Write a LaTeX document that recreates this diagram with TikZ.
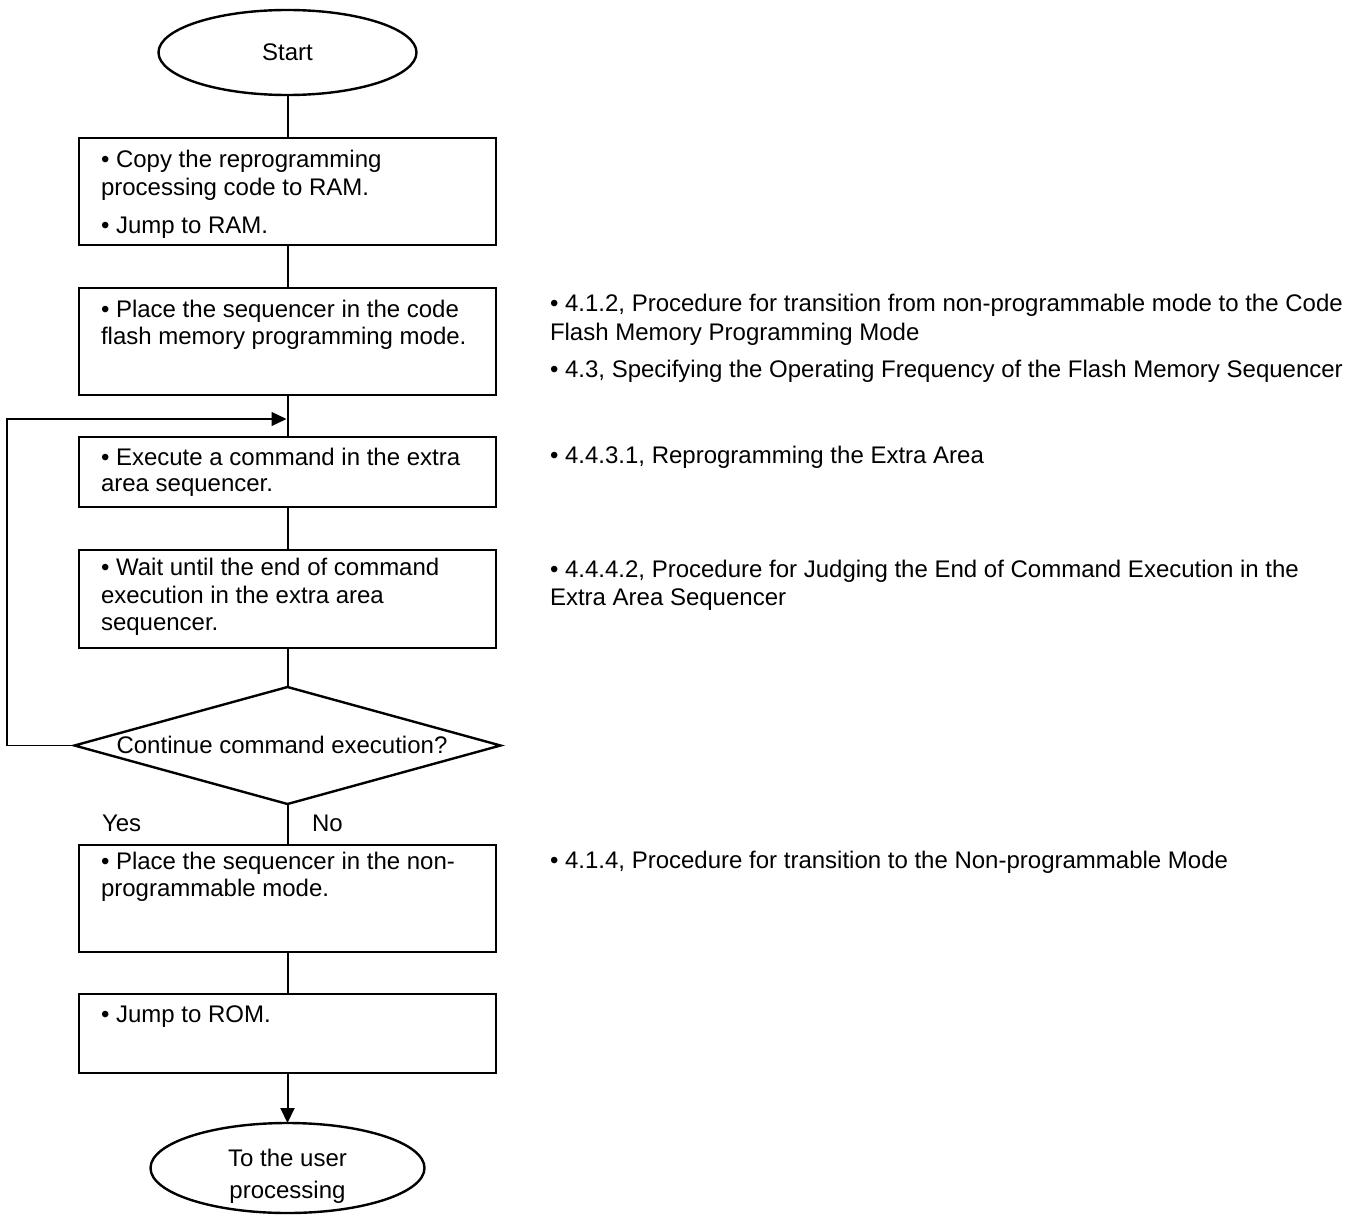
\documentclass[tikz,border=0pt]{standalone}
\usepackage{fontspec}
\setmainfont{Liberation Sans}
\usetikzlibrary{shapes.geometric,arrows.meta}
\begin{document}
\begin{tikzpicture}[x=1pt,y=-1pt,
  every node/.style={inner sep=0pt,outer sep=0pt,font=\fontsize{24}{28}\selectfont},
  term/.style={draw,ellipse,line width=2.4pt},
  procbox/.style={draw,rectangle,line width=2.6pt,minimum width=417pt},
  decide/.style={draw,diamond,line width=2.4pt},
  txt/.style={anchor=base west},
  lbl/.style={anchor=base},
  conn/.style={line width=2pt},
  loopline/.style={line width=1.3pt},
  tipped/.style={-{Triangle[length=15pt,width=14pt]}}
]
\useasboundingbox (0,0) rectangle (1355,1215);

% terminals
\node[term,minimum width=258pt,minimum height=85pt] (start) at (287.5,52.5) {Start};
\node[term,minimum width=274pt,minimum height=90pt] (stop) at (287.5,1168) {};

% process boxes
\node[procbox,minimum height=107pt] (b1) at (287.5,191.5) {};
\node[procbox,minimum height=107pt] (b2) at (287.5,341.5) {};
\node[procbox,minimum height=70pt]  (b3) at (287.5,472) {};
\node[procbox,minimum height=98pt]  (b4) at (287.5,599) {};
\node[procbox,minimum height=107pt] (b5) at (287.5,898.5) {};
\node[procbox,minimum height=79pt]  (b6) at (287.5,1033.5) {};

% decision
\node[decide,minimum width=426pt,minimum height=117pt] (d) at (287.5,745.5) {};

% box texts
\node[txt] (t1a) at (101,167) {• Copy the reprogramming};
\node[txt] (t1b) at (101,195) {processing code to RAM.};
\node[txt] (t1c) at (101,233) {• Jump to RAM.};
\node[txt] (t2a) at (101,317) {• Place the sequencer in the code};
\node[txt] (t2b) at (101,344) {flash memory programming mode.};
\node[txt] (t3a) at (101,465) {• Execute a command in the extra};
\node[txt] (t3b) at (101,491) {area sequencer.};
\node[txt] (t4a) at (101,575) {• Wait until the end of command};
\node[txt] (t4b) at (101,603) {execution in the extra area};
\node[txt] (t4c) at (101,630) {sequencer.};
\node[txt] (t5a) at (101,869) {• Place the sequencer in the non-};
\node[txt] (t5b) at (101,896) {programmable mode.};
\node[txt] (t6a) at (101,1022) {• Jump to ROM.};

\node[lbl] (dt) at (282,753) {Continue command execution?};
\node[txt] (yes) at (102,831) {Yes};
\node[txt] (no) at (312,831) {No};

\node[lbl] (e1) at (287.5,1166) {To the user};
\node[lbl] (e2) at (287.5,1198) {processing};

% reference texts
\node[txt] (r1a) at (550,311) {• 4.1.2, Procedure for transition from non-programmable mode to the Code};
\node[txt] (r1b) at (550,340) {Flash Memory Programming Mode};
\node[txt] (r1c) at (550,377) {• 4.3, Specifying the Operating Frequency of the Flash Memory Sequencer};
\node[txt] (r3) at (550,463) {• 4.4.3.1, Reprogramming the Extra Area};
\node[txt] (r4a) at (550,577) {• 4.4.4.2, Procedure for Judging the End of Command Execution in the};
\node[txt] (r4b) at (550,605) {Extra Area Sequencer};
\node[txt] (r5) at (550,868) {• 4.1.4, Procedure for transition to the Non-programmable Mode};

% connectors
\coordinate (jn) at (286.5,419);
\draw[conn] (start) -- (b1);
\draw[conn] (b1) -- (b2);
\draw[conn] (b2) -- (b3);
\draw[conn] (b3) -- (b4);
\draw[conn] (b4) -- (d);
\draw[conn] (d) -- (b5);
\draw[conn] (b5) -- (b6);
\draw[conn,tipped] (b6.south) -- (stop.north);
\draw[loopline,tipped] (d.west) -- (7,745.5) |- (jn);
\end{tikzpicture}
\end{document}
